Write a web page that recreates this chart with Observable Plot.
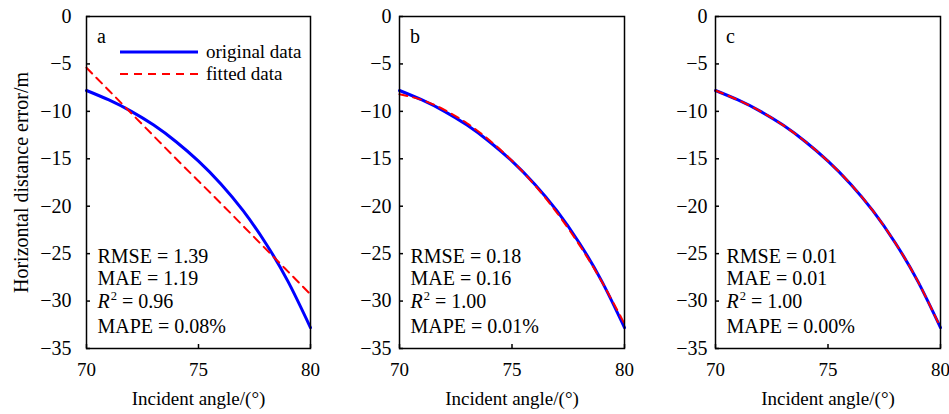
<!DOCTYPE html>
<html><head><meta charset="utf-8">
<script src="https://cdn.jsdelivr.net/npm/d3@7"></script>
<script src="https://cdn.jsdelivr.net/npm/@observablehq/plot@0.6"></script>
<style>
body{margin:0;background:#fff;}
#wrap{position:relative;width:949px;height:414px;font-family:"Liberation Serif","Times New Roman",serif;color:#000;overflow:hidden;}
#wrap svg, #wrap svg text{font-family:"Liberation Serif","Times New Roman",serif !important;}
.panel{position:absolute;top:0;}
.note{position:absolute;font-size:20px;line-height:22.3px;white-space:nowrap;}
.tag{position:absolute;font-size:20px;line-height:20px;white-space:nowrap;}
.note sup{font-size:12.5px;position:relative;top:-7.5px;vertical-align:baseline;margin-left:1px;}
</style></head><body><div id="wrap"></div>
<script>
// ---- data ----
const angles   = [70, 71, 72, 73, 74, 75, 76, 77, 78, 79, 80];
const original = [-7.8, -8.8, -10.0, -11.45, -13.2, -15.25, -17.65, -20.5, -23.9, -27.95, -32.8];
const fittedA  = [-5.4, -7.8, -10.2, -12.6, -15.0, -17.35, -19.7, -22.1, -24.5, -26.9, -29.3];
const fittedB  = [-8.2, -8.8, -9.85, -11.25, -13.05, -15.2, -17.75, -20.7, -24.1, -28.0, -32.4];
const fittedC  = [-7.8, -8.8, -10.0, -11.45, -13.2, -15.25, -17.65, -20.5, -23.9, -27.95, -32.8];
const yTicks = [0, -5, -10, -15, -20, -25, -30, -35];
const xTicks = [70, 75, 80];
const panelTags = ["a", "b", "c"];
const rmse = ["1.39", "0.18", "0.01"];
const mae  = ["1.19", "0.16", "0.01"];
const r2   = ["0.96", "1.00", "1.00"];
const mape = ["0.08%", "0.01%", "0.00%"];
const seriesNames = ["original data", "fitted data"];
const yLabel = "Horizontal distance error/m";
const xLabel = "Incident angle/(°)";

// ---- layout ----
const FONT = '"Liberation Serif", "Times New Roman", serif';
const panels = [
  {left: 0,   width: 320, ml: 86, mr: 10, pad: 15, fit: fittedA, ylab: true},
  {left: 320, width: 314, ml: 79, mr: 10, pad: 8,  fit: fittedB, ylab: false},
  {left: 634, width: 315, ml: 81, mr: 9,  pad: 8,  fit: fittedC, ylab: false}
];
const wrap = document.getElementById("wrap");

panels.forEach((cfg, p) => {
  const rows = angles.map((x, i) => ({x, orig: original[i], fit: cfg.fit[i]}));
  const chart = Plot.plot({
    width: cfg.width, height: 414,
    marginLeft: cfg.ml, marginRight: cfg.mr, marginTop: 16, marginBottom: 66,
    style: {fontFamily: FONT, fontSize: "20px", background: "white", color: "black", overflow: "visible"},
    x: {domain: [70, 80]},
    y: {domain: [-35, 0]},
    marks: [
      Plot.line(rows, {x: "x", y: "orig", stroke: "#0000ff", strokeWidth: 3, curve: "natural"}),
      Plot.line(rows, {x: "x", y: "fit", stroke: "#ff0000", strokeWidth: 2, strokeDasharray: "8,6", curve: "natural"}),
      Plot.frame({stroke: "black", strokeWidth: 1.5}),
      Plot.axisY(yTicks, {tickSize: 4, dx: 4, text: null, label: null, strokeWidth: 1.5}),
      Plot.axisY(yTicks, {tickSize: 0, tickPadding: cfg.pad, fill: "black", fontFamily: FONT,
        label: cfg.ylab ? yLabel : null, labelAnchor: "center", labelArrow: "none", labelOffset: 73, fontSize: 20}),
      Plot.axisX(xTicks, {tickSize: 4, dy: -4, text: null, label: null, strokeWidth: 1.5}),
      Plot.axisX(xTicks, {tickSize: 0, tickPadding: 14, fill: "black", fontFamily: FONT,
        label: xLabel, labelAnchor: "center", labelArrow: "none", labelOffset: 56, fontSize: 19})
    ]
  });
  const holder = document.createElement("div");
  holder.className = "panel";
  holder.style.left = cfg.left + "px";
  holder.appendChild(chart);
  wrap.appendChild(holder);

  const frameLeft = cfg.left + cfg.ml;
  const tag = document.createElement("div");
  tag.className = "tag";
  tag.style.left = (frameLeft + 11) + "px";
  tag.style.top = "26px";
  tag.textContent = panelTags[p];
  wrap.appendChild(tag);

  const note = document.createElement("div");
  note.className = "note";
  note.style.left = (frameLeft + 11.5) + "px";
  note.style.top = "245px";
  note.innerHTML = `RMSE = ${rmse[p]}<br>MAE = ${mae[p]}<br><i>R</i><sup>2</sup> = ${r2[p]}<br>MAPE = ${mape[p]}`;
  wrap.appendChild(note);
});

// legend inside panel a
const ns = "http://www.w3.org/2000/svg";
const leg = document.createElementNS(ns, "svg");
leg.setAttribute("width", 320); leg.setAttribute("height", 100);
leg.style.position = "absolute"; leg.style.left = "0px"; leg.style.top = "0px";
const keys = [
  {y: 52, stroke: "#0000ff", w: 3, dash: null},
  {y: 74, stroke: "#ff0000", w: 2, dash: "8,6"}
];
keys.forEach((k, i) => {
  const ln = document.createElementNS(ns, "line");
  ln.setAttribute("x1", 120); ln.setAttribute("x2", 198);
  ln.setAttribute("y1", k.y); ln.setAttribute("y2", k.y);
  ln.setAttribute("stroke", k.stroke); ln.setAttribute("stroke-width", k.w);
  if (k.dash) ln.setAttribute("stroke-dasharray", k.dash);
  leg.appendChild(ln);
  const tx = document.createElementNS(ns, "text");
  tx.setAttribute("x", 206); tx.setAttribute("y", k.y + 6);
  tx.setAttribute("font-family", FONT);
  tx.setAttribute("font-size", 19);
  tx.textContent = seriesNames[i];
  leg.appendChild(tx);
});
wrap.appendChild(leg);
</script>
</body></html>
